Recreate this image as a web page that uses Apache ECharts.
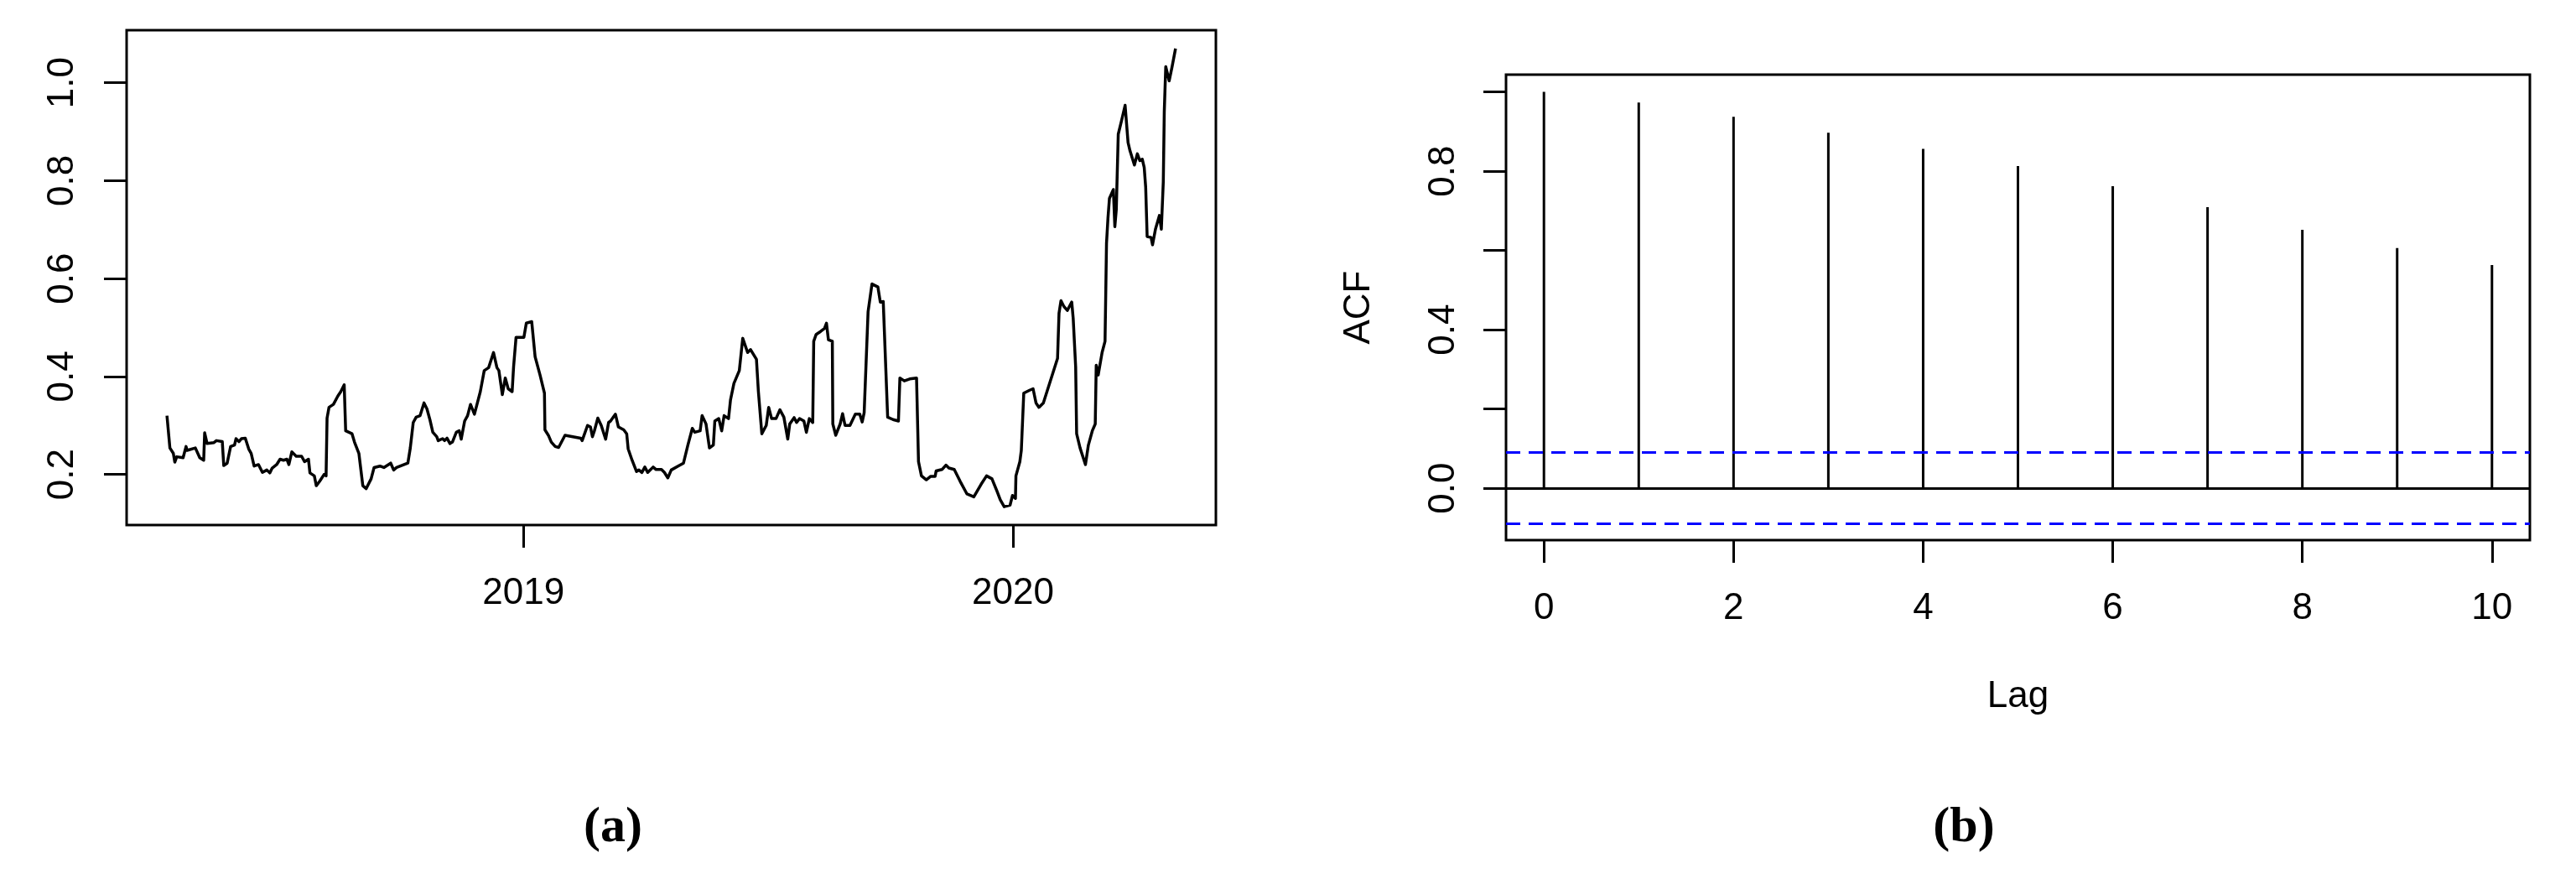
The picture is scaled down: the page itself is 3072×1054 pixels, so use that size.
<!DOCTYPE html>
<html>
<head>
<meta charset="utf-8">
<title>Series and ACF</title>
<script src="https://cdn.jsdelivr.net/npm/echarts@6/dist/echarts.min.js"></script>
<style>
html, body { margin: 0; padding: 0; background: #fff; }
#chart { width: 3072px; height: 1054px; }
</style>
</head>
<body>
<div id="chart"></div>
<script>
// panel (a): the series, x in decimal years
const rateYears = [
  2018.272, 2018.278, 2018.285, 2018.288, 2018.292, 2018.305, 2018.311, 2018.313, 2018.330, 2018.339,
  2018.347, 2018.349, 2018.354, 2018.368, 2018.373, 2018.385, 2018.388, 2018.395, 2018.402, 2018.410,
  2018.413, 2018.419, 2018.424, 2018.432, 2018.439, 2018.444, 2018.450, 2018.459, 2018.467, 2018.476,
  2018.482, 2018.487, 2018.496, 2018.503, 2018.510, 2018.517, 2018.521, 2018.527, 2018.536, 2018.547,
  2018.553, 2018.561, 2018.564, 2018.573, 2018.577, 2018.584, 2018.593, 2018.597, 2018.599, 2018.603,
  2018.612, 2018.621, 2018.627, 2018.634, 2018.637, 2018.650, 2018.655, 2018.664, 2018.672, 2018.679,
  2018.689, 2018.695, 2018.707, 2018.715, 2018.729, 2018.735,
  2018.741, 2018.764, 2018.769, 2018.775, 2018.781, 2018.789, 2018.797, 2018.803, 2018.809, 2018.815,
  2018.823, 2018.826, 2018.835, 2018.839, 2018.844, 2018.850, 2018.855, 2018.863, 2018.869, 2018.873,
  2018.880, 2018.886, 2018.892, 2018.900, 2018.912, 2018.920, 2018.929, 2018.939, 2018.946, 2018.950,
  2018.957, 2018.963, 2018.969, 2018.977, 2018.980, 2018.985, 2018.994, 2019.001, 2019.006, 2019.017,
  2019.024, 2019.034, 2019.043, 2019.044, 2019.051, 2019.057, 2019.065, 2019.072, 2019.085, 2019.117,
  2019.120, 2019.131, 2019.137, 2019.141, 2019.145, 2019.152, 2019.159, 2019.168, 2019.174, 2019.178,
  2019.188,
  2019.194, 2019.205, 2019.211, 2019.214, 2019.222, 2019.231, 2019.236, 2019.242, 2019.248, 2019.254,
  2019.265, 2019.271, 2019.282, 2019.288, 2019.295, 2019.302, 2019.316, 2019.327, 2019.336, 2019.345,
  2019.350, 2019.361, 2019.365, 2019.373, 2019.380, 2019.388, 2019.391, 2019.399, 2019.405, 2019.410,
  2019.419, 2019.423, 2019.430, 2019.441, 2019.448, 2019.458, 2019.464, 2019.476, 2019.480, 2019.487,
  2019.496, 2019.501, 2019.507, 2019.516, 2019.524, 2019.532, 2019.540, 2019.544, 2019.553, 2019.558,
  2019.564, 2019.573, 2019.578, 2019.584, 2019.591, 2019.593, 2019.598, 2019.607, 2019.615, 2019.619,
  2019.623, 2019.631, 2019.632, 2019.638, 2019.647, 2019.652, 2019.657, 2019.667, 2019.678, 2019.687,
  2019.692, 2019.696, 2019.704, 2019.712, 2019.724, 2019.729, 2019.735, 2019.744, 2019.755, 2019.766,
  2019.769, 2019.778, 2019.789, 2019.803, 2019.807, 2019.813, 2019.823, 2019.832, 2019.841, 2019.843,
  2019.855, 2019.863, 2019.869, 2019.880, 2019.892, 2019.906, 2019.920, 2019.935, 2019.946, 2019.957,
  2019.966, 2019.974, 2019.982, 2019.994, 2019.999, 2020.005, 2020.006, 2020.014, 2020.017, 2020.022,
  2020.034, 2020.041, 2020.047, 2020.053, 2020.062, 2020.091, 2020.094, 2020.098, 2020.104, 2020.111,
  2020.120, 2020.123, 2020.128, 2020.130, 2020.137, 2020.148, 2020.154, 2020.162, 2020.168, 2020.170,
  2020.174, 2020.182, 2020.188, 2020.191, 2020.194, 2020.197, 2020.205, 2020.208, 2020.211, 2020.215,
  2020.222, 2020.229, 2020.235, 2020.239, 2020.248, 2020.254, 2020.259, 2020.264, 2020.268, 2020.271,
  2020.274, 2020.282, 2020.285, 2020.291, 2020.299, 2020.303, 2020.307, 2020.309, 2020.312, 2020.319,
  2020.325, 2020.332
];
const rateValues = [
  0.320, 0.254, 0.243, 0.225, 0.236, 0.234, 0.257, 0.249, 0.254, 0.234,
  0.229, 0.285, 0.263, 0.265, 0.269, 0.267, 0.218, 0.223, 0.257, 0.260,
  0.273, 0.267, 0.273, 0.274, 0.252, 0.243, 0.217, 0.220, 0.204, 0.209,
  0.203, 0.213, 0.220, 0.231, 0.229, 0.231, 0.220, 0.246, 0.237, 0.237,
  0.226, 0.231, 0.203, 0.197, 0.177, 0.186, 0.200, 0.197, 0.315, 0.337,
  0.343, 0.360, 0.369, 0.383, 0.289, 0.283, 0.266, 0.243, 0.177, 0.171,
  0.191, 0.214, 0.217, 0.214, 0.223, 0.209,
  0.214, 0.223, 0.254, 0.306, 0.317, 0.320, 0.346, 0.334, 0.312, 0.286,
  0.277, 0.269, 0.273, 0.269, 0.274, 0.263, 0.266, 0.286, 0.289, 0.272,
  0.309, 0.320, 0.343, 0.323, 0.369, 0.412, 0.418, 0.449, 0.418, 0.412,
  0.363, 0.397, 0.375, 0.369, 0.420, 0.480, 0.480, 0.480, 0.509, 0.512,
  0.440, 0.403, 0.366, 0.291, 0.280, 0.266, 0.257, 0.255, 0.280, 0.274,
  0.269, 0.300, 0.297, 0.277, 0.289, 0.315, 0.300, 0.272, 0.306, 0.309,
  0.323,
  0.297, 0.291, 0.283, 0.252, 0.229, 0.206, 0.209, 0.204, 0.215, 0.204,
  0.215, 0.210, 0.210, 0.204, 0.193, 0.209, 0.217, 0.223, 0.260, 0.294,
  0.286, 0.289, 0.320, 0.303, 0.254, 0.260, 0.309, 0.314, 0.289, 0.320,
  0.314, 0.352, 0.386, 0.412, 0.478, 0.449, 0.455, 0.435, 0.369, 0.283,
  0.300, 0.337, 0.314, 0.314, 0.332, 0.317, 0.272, 0.303, 0.316, 0.306,
  0.314, 0.309, 0.286, 0.314, 0.306, 0.472, 0.486, 0.492, 0.498, 0.509,
  0.475, 0.472, 0.303, 0.280, 0.303, 0.324, 0.300, 0.300, 0.323, 0.323,
  0.307, 0.326, 0.532, 0.589, 0.583, 0.552, 0.553, 0.317, 0.312, 0.309,
  0.397, 0.391, 0.395, 0.397, 0.226, 0.197, 0.189, 0.196, 0.196, 0.207,
  0.210, 0.219, 0.213, 0.210, 0.186, 0.160, 0.154, 0.180, 0.197, 0.191,
  0.169, 0.148, 0.134, 0.137, 0.157, 0.151, 0.197, 0.226, 0.249, 0.366,
  0.372, 0.375, 0.346, 0.337, 0.346, 0.437, 0.529, 0.555, 0.543, 0.535,
  0.552, 0.518, 0.420, 0.283, 0.254, 0.220, 0.260, 0.289, 0.303, 0.423,
  0.403, 0.449, 0.472, 0.672, 0.724, 0.764, 0.782, 0.706, 0.741, 0.895,
  0.924, 0.954, 0.878, 0.861, 0.832, 0.855, 0.841, 0.844, 0.827, 0.787,
  0.686, 0.684, 0.669, 0.701, 0.729, 0.701, 0.798, 0.941, 1.033, 1.004,
  1.033, 1.070
];
const yearTicks = [2019, 2020];
const rateTicks = [0.2, 0.4, 0.6, 0.8, 1.0];

// panel (b): autocorrelation
const lags = [0, 1, 2, 3, 4, 5, 6, 7, 8, 9, 10];
const acfValues = [1.0, 0.973, 0.937, 0.897, 0.856, 0.813, 0.762, 0.709, 0.652, 0.606, 0.563];
const ciBound = 0.0875;
const lagTicks = [0, 2, 4, 6, 8, 10];
const acfTicks = [0, 0.2, 0.4, 0.6, 0.8, 1.0];
const acfLabelTicks = [0, 0.4, 0.8];

// like R: data range padded by 4% on each side
function padRange(lo, hi) {
    var d = (hi - lo) * 0.04;
    return [lo - d, hi + d];
}

var xRangeA = padRange(Math.min.apply(null, rateYears), Math.max.apply(null, rateYears));
var yRangeA = padRange(Math.min.apply(null, rateValues), Math.max.apply(null, rateValues));
var xRangeB = padRange(Math.min.apply(null, lags), Math.max.apply(null, lags));
var yRangeB = padRange(Math.min(-ciBound, Math.min.apply(null, acfValues)), Math.max(ciBound, Math.max.apply(null, acfValues)));

var seriesA = rateYears.map(function (t, i) { return [t, rateValues[i]]; });
var seriesB = lags.map(function (l, i) { return [l, acfValues[i]]; });

var FONT = "Liberation Sans";
var FS = 44;

function ticks(values) {
    return { show: true, inside: false, length: 27, customValues: values, lineStyle: { color: "#000", width: 3 } };
}
function labels(values, margin, rotate, fmt) {
    return {
        customValues: values, margin: margin, rotate: rotate, formatter: fmt,
        fontFamily: FONT, fontSize: FS, color: "#000"
    };
}
// axes sit on the frame edges, never on zero
var noLine = { show: false, onZero: false };
var capRich = {
    p: { fontFamily: "Liberation Serif", fontSize: 60, color: "#000" },
    b: { fontFamily: "Liberation Serif", fontSize: 60, fontWeight: "bold", color: "#000" }
};

var chart = echarts.init(document.getElementById("chart"));
var option = {
    animation: false,
    backgroundColor: "#fff",
    title: [
        { text: "{p|(}{b|a}{p|)}", left: 731, top: 987, padding: 0, textAlign: "center", textVerticalAlign: "middle", textStyle: { rich: capRich } },
        { text: "{p|(}{b|b}{p|)}", left: 2342, top: 987, padding: 0, textAlign: "center", textVerticalAlign: "middle", textStyle: { rich: capRich } }
    ],
    grid: [
        { left: 151, top: 36, width: 1299, height: 590, show: true, borderColor: "#000", borderWidth: 3, backgroundColor: "transparent" },
        { left: 1796, top: 89, width: 1221, height: 555, show: true, borderColor: "#000", borderWidth: 3, backgroundColor: "transparent" }
    ],
    xAxis: [
        {
            gridIndex: 0, type: "value", min: xRangeA[0], max: xRangeA[1],
            axisLine: noLine, splitLine: { show: false },
            axisTick: ticks(yearTicks),
            axisLabel: labels(yearTicks, 60, 0, function (v) { return String(Math.round(v)); })
        },
        {
            gridIndex: 1, type: "value", min: xRangeB[0], max: xRangeB[1],
            axisLine: noLine, splitLine: { show: false },
            axisTick: ticks(lagTicks),
            axisLabel: labels(lagTicks, 60, 0, function (v) { return String(Math.round(v)); }),
            name: "Lag", nameLocation: "middle", nameGap: 165,
            nameTextStyle: { fontFamily: FONT, fontSize: FS, color: "#000" }
        }
    ],
    yAxis: [
        {
            gridIndex: 0, type: "value", min: yRangeA[0], max: yRangeA[1],
            axisLine: noLine, splitLine: { show: false },
            axisTick: ticks(rateTicks),
            axisLabel: labels(rateTicks, 54, 90, function (v) { return v.toFixed(1); })
        },
        {
            gridIndex: 1, type: "value", min: yRangeB[0], max: yRangeB[1],
            axisLine: noLine, splitLine: { show: false },
            axisTick: ticks(acfTicks),
            axisLabel: labels(acfLabelTicks, 52, 90, function (v) { return v.toFixed(1); }),
            name: "ACF", nameLocation: "middle", nameGap: 153, nameRotate: 90,
            nameTextStyle: { fontFamily: FONT, fontSize: FS, color: "#000" }
        }
    ],
    series: [
        {
            type: "line", xAxisIndex: 0, yAxisIndex: 0, data: seriesA,
            symbol: "none", silent: true,
            lineStyle: { color: "#000", width: 3.5, join: "round" }
        },
        {
            type: "bar", xAxisIndex: 1, yAxisIndex: 1, data: seriesB,
            barWidth: 3, silent: true,
            itemStyle: { color: "#000" },
            markLine: {
                silent: true, symbol: ["none", "none"], label: { show: false },
                data: [
                    { yAxis: 0, lineStyle: { color: "#000", type: "solid", width: 3 } },
                    { yAxis: ciBound, lineStyle: { color: "#0000ff", type: [17, 10], width: 3 } },
                    { yAxis: -ciBound, lineStyle: { color: "#0000ff", type: [17, 10], width: 3 } }
                ]
            }
        }
    ]
};
chart.setOption(option, true);
</script>
</body>
</html>
